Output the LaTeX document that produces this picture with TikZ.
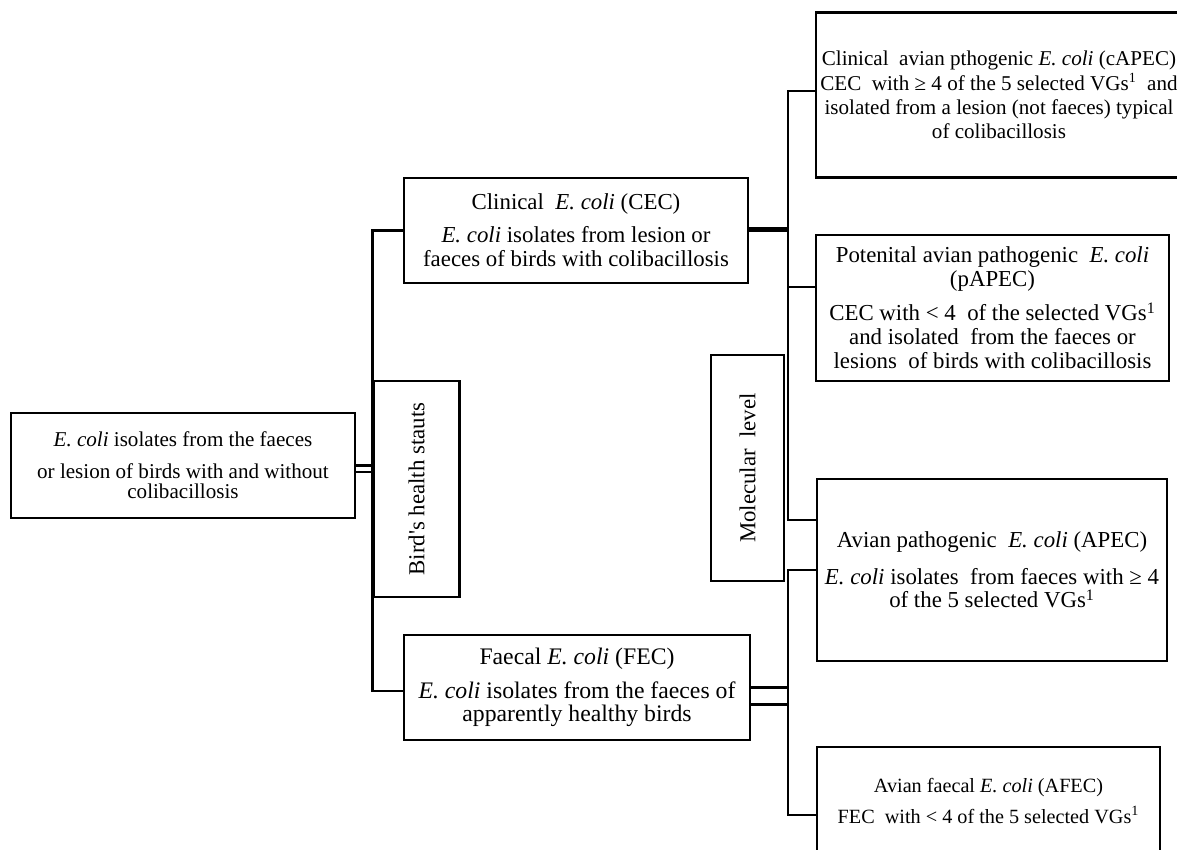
\documentclass[tikz,border=0pt]{standalone}
\usepackage{fontspec}
\setmainfont{Liberation Serif}
\usepackage{graphicx}
\usetikzlibrary{calc}
\newcommand{\ecoli}{\textit{E. coli}}
\begin{document}
\begin{tikzpicture}[x=0.02cm,y=-0.02cm,line width=1.4pt,
	panel/.style={draw, rectangle, align=center, inner sep=2pt},
	link/.style={line width=1.4pt}]
	\clip (0,0) rectangle (1177,849);

	\node[panel, minimum width=6.88cm, minimum height=2.1cm, font=\fontsize{12}{11.4}\selectfont] (root) at (183,465.5)
		{\ecoli{} isolates from the faeces\\[6.8pt] or lesion of birds with and without\\ colibacillosis};
	\node[panel, minimum width=1.72cm, minimum height=4.32cm, font=\fontsize{13}{14}\selectfont] (health) at (416.5,489)
		{\rotatebox{90}{Bird\textquotesingle s health stauts}};
	\node[panel, minimum width=6.88cm, minimum height=2.1cm, font=\fontsize{13}{13.7}\selectfont] (cec) at (576,230.5)
		{Clinical\ \ \ecoli{} (CEC)\\[5pt] \ecoli{} isolates from lesion or\\ faeces of birds with colibacillosis};
	\node[panel, minimum width=6.92cm, minimum height=2.1cm, font=\fontsize{13.5}{13.1}\selectfont] (fec) at (577,687.5)
		{Faecal \ecoli{} (FEC)\\[6pt] \ecoli{} isolates from the faeces of\\ apparently healthy birds};
	\node[panel, minimum width=1.46cm, minimum height=4.52cm, font=\fontsize{13}{14}\selectfont] (molec) at (747.5,468)
		{\rotatebox{90}{Molecular\ \ level}};

	\node[panel, minimum width=7.32cm, minimum height=3.3cm, font=\fontsize{12}{13.8}\selectfont] (capec) at (999,95)
		{Clinical\ \ avian pthogenic \ecoli{} (cAPEC)\\ CEC\ \ with ≥ 4 of the 5 selected VGs\textsuperscript{1}\ \ and\\ isolated from a lesion (not faeces) typical\\ of colibacillosis};
	\node[panel, minimum width=7.06cm, minimum height=2.92cm, font=\fontsize{13}{13.7}\selectfont] (papec) at (992.5,308)
		{Potenital avian pathogenic\ \ \ecoli\\ (pAPEC)\\[5.7pt] CEC with < 4\ \ of the selected VGs\textsuperscript{1}\\ and isolated\ \ from the faeces or\\ lesions\ \ of birds with colibacillosis};
	\node[panel, minimum width=7cm, minimum height=3.64cm, font=\fontsize{13}{13.1}\selectfont] (apec) at (992,570)
		{Avian pathogenic\ \ \ecoli{} (APEC)\\[8pt] \ecoli{} isolates\ \ from faeces with ≥ 4\\ of the 5 selected VGs\textsuperscript{1}};
	\node[panel, minimum width=6.86cm, minimum height=2.16cm, font=\fontsize{11.5}{12}\selectfont] (afec) at (988.5,801)
		{Avian faecal \ecoli{} (AFEC)\\[4pt] FEC\ \ with < 4 of the 5 selected VGs\textsuperscript{1}};

	\draw[link] (root.east) -- (root.east -| health.west);
	\draw[link] ([yshift=-0.13cm]root.east) -- ([yshift=-0.13cm]root.east -| health.west);
	\draw[link] (cec.west) -| (health.west) |- ([yshift=-0.07cm]fec.west);

	\coordinate (cright) at ([xshift=0.78cm]cec.east);
	\coordinate (fright) at ([xshift=0.74cm]fec.east);
	\draw[link] ([yshift=0.05cm]cec.east) -- ([yshift=0.05cm]cright) |- ([yshift=0.08cm]capec.west);
	\draw[link] (cec.east) -- (cright) |- ([yshift=0.42cm]papec.west);
	\draw[link] (cright) |- ([yshift=1cm]apec.west);

	\draw[link] (fec.east) -- (fright);
	\draw[link] ([yshift=-0.34cm]fec.east) -- ([yshift=-0.34cm]fright);
	\draw[link] (apec.west) -| (fright) |- ([yshift=-0.28cm]afec.west);
\end{tikzpicture}
\end{document}
